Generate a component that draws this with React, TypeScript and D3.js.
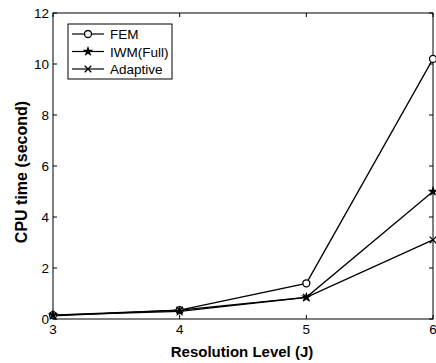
import React, { useEffect, useRef } from 'react';
import * as d3 from 'd3';

const levels = [3, 4, 5, 6];
const femTimes = [0.15, 0.35, 1.4, 10.2];
const iwmTimes = [0.15, 0.3, 0.85, 5.0];
const adaptiveTimes = [0.12, 0.35, 0.85, 3.1];
const seriesNames = ['FEM', 'IWM(Full)', 'Adaptive'];
const yTicks = [0, 2, 4, 6, 8, 10, 12];

const App = () => {
    const svgRef = useRef<SVGSVGElement>(null);

    useEffect(() => {
        const svg = d3.select(svgRef.current);
        svg.selectAll('*').remove();

        const width = 436, height = 363;
        const margin = { top: 13, right: 3, bottom: 44, left: 53 };
        const font = 'Liberation Sans, Arial, sans-serif';

        const x = d3.scaleLinear().domain([3, 6]).range([margin.left, width - margin.right]);
        const y = d3.scaleLinear().domain([0, 12]).range([height - margin.bottom, margin.top]);

        const g = svg.append('g');

        // frame
        g.append('rect')
            .attr('x', x(3)).attr('y', y(12))
            .attr('width', x(6) - x(3)).attr('height', y(0) - y(12))
            .attr('fill', 'none').attr('stroke', '#000').attr('stroke-width', 1);

        // ticks (inward on all four sides)
        const tl = 4;
        levels.forEach(v => {
            g.append('line').attr('x1', x(v)).attr('x2', x(v)).attr('y1', y(0)).attr('y2', y(0) - tl).attr('stroke', '#000');
            g.append('line').attr('x1', x(v)).attr('x2', x(v)).attr('y1', y(12)).attr('y2', y(12) + tl).attr('stroke', '#000');
            g.append('text').attr('x', x(v)).attr('y', y(0) + 15)
                .attr('text-anchor', 'middle').attr('font-family', font).attr('font-size', 13.5).text(v);
        });
        yTicks.forEach(v => {
            g.append('line').attr('x1', x(3)).attr('x2', x(3) + tl).attr('y1', y(v)).attr('y2', y(v)).attr('stroke', '#000');
            g.append('line').attr('x1', x(6)).attr('x2', x(6) - tl).attr('y1', y(v)).attr('y2', y(v)).attr('stroke', '#000');
            g.append('text').attr('x', x(3) - 4).attr('y', y(v) + 5)
                .attr('text-anchor', 'end').attr('font-family', font).attr('font-size', 13.5).text(v);
        });

        // axis labels
        g.append('text').attr('x', 242).attr('y', 357)
            .attr('text-anchor', 'middle').attr('font-family', font).attr('font-weight', 'bold')
            .attr('font-size', 15).text('Resolution Level (J)');
        g.append('text').attr('transform', `translate(27,172) rotate(-90)`)
            .attr('text-anchor', 'middle').attr('font-family', font).attr('font-weight', 'bold')
            .attr('font-size', 16).text('CPU time (second)');

        const line = d3.line<number>().x((d, i) => x(levels[i])).y(d => y(d));
        const allSeries = [femTimes, iwmTimes, adaptiveTimes];

        const drawMarker = (sel: any, kind: number, cx: number, cy: number) => {
            if (kind === 0) {
                sel.append('circle').attr('cx', cx).attr('cy', cy).attr('r', 3.5)
                    .attr('fill', '#fff').attr('stroke', '#000').attr('stroke-width', 1.3);
            } else if (kind === 1) {
                sel.append('path').attr('d', d3.symbol(d3.symbolStar, 36)())
                    .attr('transform', `translate(${cx},${cy})`).attr('fill', '#000');
            } else {
                sel.append('path').attr('d', d3.symbol(d3.symbolTimes, 30)())
                    .attr('transform', `translate(${cx},${cy})`).attr('fill', 'none')
                    .attr('stroke', '#000').attr('stroke-width', 1.3);
            }
        };

        allSeries.forEach(s => {
            g.append('path').datum(s).attr('d', line)
                .attr('fill', 'none').attr('stroke', '#000').attr('stroke-width', 1.3);
        });
        allSeries.forEach((s, k) => {
            s.forEach((v, i) => drawMarker(g, k, x(levels[i]), y(v)));
        });

        // legend
        const lg = g.append('g');
        lg.append('rect').attr('x', 68).attr('y', 24).attr('width', 104).attr('height', 55)
            .attr('fill', '#fff').attr('stroke', '#000').attr('stroke-width', 1);
        seriesNames.forEach((name, k) => {
            const ly = 34 + k * 17.5;
            lg.append('line').attr('x1', 72).attr('x2', 104).attr('y1', ly).attr('y2', ly)
                .attr('stroke', '#000').attr('stroke-width', 1.2);
            drawMarker(lg, k, 88, ly);
            lg.append('text').attr('x', 110).attr('y', ly + 5)
                .attr('font-family', font).attr('font-size', 13.5).text(name);
        });
    }, []);

    return (
        <svg ref={svgRef} width={436} height={363}
            style={{ position: 'absolute', left: 0, top: 0, background: '#fff' }}></svg>
    );
};

export default App;
